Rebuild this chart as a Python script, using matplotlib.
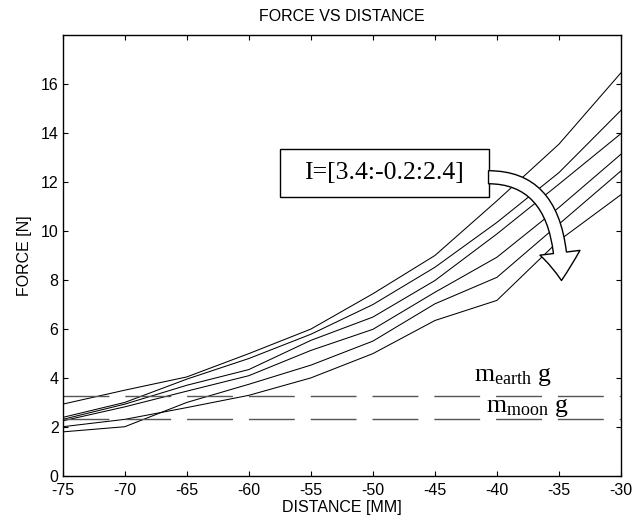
#!/usr/bin/env python3
# Force vs distance curves for several coil currents, with the two weight levels

import matplotlib
matplotlib.use("Agg")
import matplotlib.pyplot as plt
from matplotlib.patches import FancyArrowPatch, Rectangle

plt.rcParams['font.family'] = ['Liberation Sans', 'DejaVu Sans']
plt.rcParams['mathtext.fontset'] = 'custom'
plt.rcParams['mathtext.rm'] = 'Liberation Serif'
plt.rcParams['mathtext.it'] = 'Liberation Serif'
plt.rcParams['axes.unicode_minus'] = False

# distance in mm
distance = [-75, -70, -65, -60, -55, -50, -45, -40, -35, -30]

# force in N, one list per current (3.4 A down to 2.4 A)
force_i34 = [2.94, 3.51, 4.05, 5.00, 6.00, 7.44, 9.00, 11.23, 13.54, 16.45]
force_i32 = [2.40, 3.01, 3.96, 4.80, 5.79, 7.00, 8.52, 10.35, 12.38, 14.92]
force_i30 = [2.32, 2.94, 3.71, 4.35, 5.54, 6.49, 7.98, 9.88, 11.91, 13.97]
force_i28 = [2.26, 2.83, 3.47, 4.10, 5.13, 5.99, 7.50, 8.93, 10.96, 13.13]
force_i26 = [1.81, 2.02, 3.01, 3.75, 4.53, 5.51, 7.03, 8.11, 10.28, 12.45]
force_i24 = [2.02, 2.32, 2.80, 3.30, 4.01, 5.00, 6.35, 7.17, 9.61, 11.48]
all_forces = [force_i34, force_i32, force_i30, force_i28, force_i26, force_i24]

# weight levels
weight_earth = 3.28
weight_moon = 2.33

x_ticks = [-75, -70, -65, -60, -55, -50, -45, -40, -35, -30]
y_ticks = [0, 2, 4, 6, 8, 10, 12, 14, 16]


def main():
    fig = plt.figure(figsize=(6.38, 5.25), dpi=100)
    ax = fig.add_axes([0.0983, 0.0928, 0.8751, 0.8411])

    for f in all_forces:
        ax.plot(distance, f, color='black', lw=0.75)

    for w in [weight_earth, weight_moon]:
        ax.plot([distance[0], distance[-1]], [w, w], color='#555555', lw=1.0,
                dashes=(33, 11.5))

    ax.text(-41.85, 3.87, r'$\mathrm{m_{earth}\ g}$', fontsize=18.5, ha='left', va='baseline')
    ax.text(-40.9, 2.63, r'$\mathrm{m_{moon}\ g}$', fontsize=18.5, ha='left', va='baseline')

    # current range annotation
    ax.add_patch(Rectangle((-57.5, 11.39), 16.82, 1.96, facecolor='white',
                           edgecolor='black', lw=1.0, zorder=4))
    ax.text(-49.09, 12.37, 'I=[3.4:-0.2:2.4]', fontsize=18.5, family='Liberation Serif',
            ha='center', va='center', zorder=5)
    arrow = FancyArrowPatch((-40.68, 12.19), (-34.8, 7.98),
                            connectionstyle='angle3,angleA=0,angleB=90',
                            arrowstyle='simple,tail_width=0.94,head_width=2.9,head_length=2.0',
                            mutation_scale=10, facecolor='white', edgecolor='black',
                            lw=1.0, shrinkA=0, shrinkB=0, zorder=4)
    ax.add_patch(arrow)

    ax.set_xlim(-75, -30)
    ax.set_ylim(0, 18)
    ax.set_xticks(x_ticks)
    ax.set_yticks(y_ticks)
    ax.tick_params(direction='in', length=3.6, width=0.8, top=True, right=True,
                   labelsize=11.5, pad=3)
    ax.tick_params(axis='x', pad=5)
    for s in ax.spines.values():
        s.set_linewidth(1.0)

    ax.set_title('FORCE VS DISTANCE', fontsize=11.5, pad=10)
    ax.set_xlabel('DISTANCE [MM]', fontsize=11.5, labelpad=1)
    ax.set_ylabel('FORCE [N]', fontsize=11.5, labelpad=6)

    fig.savefig('out.png', dpi=100)


if __name__ == '__main__':
    main()
